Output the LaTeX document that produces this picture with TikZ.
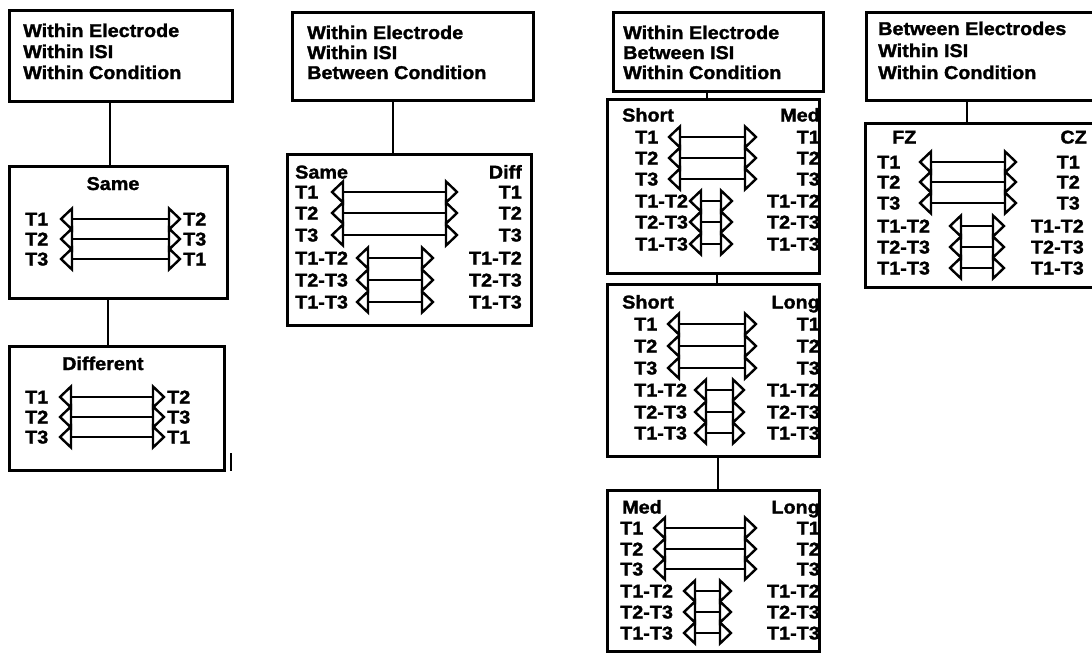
\documentclass[tikz,border=0pt]{standalone}
\usepackage{fontspec}
\setmainfont{Liberation Sans}[FakeStretch=1.07, BoldFeatures={FakeBold=1.5}]
\tikzset{
  box/.style={draw, line width=3pt, inner sep=0pt, outer sep=0pt, anchor=north west},
  lab/.style={font=\fontsize{18.5}{20}\selectfont\bfseries, inner sep=0pt, anchor=base west},
  labr/.style={lab, anchor=base east},
  labc/.style={lab, anchor=base},
  link/.style={line width=2.6pt},
  shaft/.style={line width=2.8pt},
  head/.style={line width=2.4pt, line join=miter, miter limit=10},
}
% double-headed connector with open triangular heads between two named coordinates
\newcommand\dblarr[2]{%
  \draw[shaft] ([xshift=10pt]#1) -- ([xshift=-10pt]#2);
  \draw[head] (#1) -- ([shift={(11pt,10.5pt)}]#1) -- ([shift={(11pt,-10.5pt)}]#1) -- cycle;
  \draw[head] (#2) -- ([shift={(-11pt,10.5pt)}]#2) -- ([shift={(-11pt,-10.5pt)}]#2) -- cycle;
}
\begin{document}
\begin{tikzpicture}[x=1pt,y=-1pt]
\useasboundingbox (0,0) rectangle (1092,654);
\fill[white] (0,0) rectangle (1092,654);
\clip (0,0) rectangle (1092,654);

% ---------------- Column 1 ----------------
\node[box, minimum width=223pt, minimum height=91pt] (a0) at (9,10) {};
\node[lab] (a0t1) at (23,37) {Within Electrode};
\node[lab] (a0t2) at (23,58) {Within ISI};
\node[lab] (a0t3) at (23,79) {Within Condition};

\node[box, minimum width=218pt, minimum height=132pt] (a1) at (9,166) {};
\node[labc] (a1h) at (113,190) {Same};
\foreach \l/\r/\y [count=\i] in {T1/T2/219, T2/T3/239, T3/T1/259}{
  \node[lab] (a1l\i) at (25,\y+6.5) {\l};
  \node[lab] (a1r\i) at (183,\y+6.5) {\r};
  \coordinate (a1p\i) at (61,\y);
  \coordinate (a1q\i) at (180,\y);
  \dblarr{a1p\i}{a1q\i}
}

\node[box, minimum width=215pt, minimum height=124pt] (a2) at (9,346) {};
\node[lab] (a2h) at (62,370) {Different};
\foreach \l/\r/\y [count=\i] in {T1/T2/397, T2/T3/417, T3/T1/437}{
  \node[lab] (a2l\i) at (25,\y+6.5) {\l};
  \node[lab] (a2r\i) at (167,\y+6.5) {\r};
  \coordinate (a2p\i) at (60,\y);
  \coordinate (a2q\i) at (164,\y);
  \dblarr{a2p\i}{a2q\i}
}
\coordinate (ka) at (110,0);
\coordinate (kb) at (108,0);
\draw[link] (a0.south -| ka) -- (a1.north -| ka);
\draw[link] (a1.south -| kb) -- (a2.north -| kb);
\coordinate (m1) at (231,453);
\coordinate (m2) at (231,471);
\draw[link] (m1) -- (m2);

% ---------------- Column 2 ----------------
\node[box, minimum width=241pt, minimum height=88pt] (b0) at (292,12) {};
\node[lab] (b0t1) at (307,39) {Within Electrode};
\node[lab] (b0t2) at (307,59) {Within ISI};
\node[lab] (b0t3) at (307,79) {Between Condition};

\node[box, minimum width=244pt, minimum height=171pt] (b1) at (287,154) {};
\node[lab] (b1h) at (295,178.5) {Same};
\node[labr] (b1k) at (522,178.5) {Diff};
\foreach \l/\y [count=\i] in {T1/192, T2/213, T3/235, T1-T2/258, T2-T3/280, T1-T3/302}{
  \node[lab] (b1l\i) at (295,\y+6.5) {\l};
  \node[labr] (b1r\i) at (522,\y+6.5) {\l};
}
\foreach \y [count=\i] in {192,213,235}{
  \coordinate (b1p\i) at (332,\y);
  \coordinate (b1q\i) at (457,\y);
  \dblarr{b1p\i}{b1q\i}
}
\foreach \y [count=\i] in {258,280,302}{
  \coordinate (b1s\i) at (357,\y);
  \coordinate (b1u\i) at (433,\y);
  \dblarr{b1s\i}{b1u\i}
}
\coordinate (kc) at (393,0);
\draw[link] (b0.south -| kc) -- (b1.north -| kc);

% ---------------- Column 3 ----------------
\node[box, minimum width=210pt, minimum height=79pt] (c0) at (613,12) {};
\node[lab] (c0t1) at (623,39) {Within Electrode};
\node[lab] (c0t2) at (623,59) {Between ISI};
\node[lab] (c0t3) at (623,79) {Within Condition};

% box 2 : Short / Med
\node[box, minimum width=212pt, minimum height=174pt] (c1) at (607,99) {};
\node[lab] (c1h) at (622,121.5) {Short};
\node[labr] (c1k) at (820,121.5) {Med};
\foreach \l/\y [count=\i] in {T1/137, T2/158, T3/179, T1-T2/201, T2-T3/222, T1-T3/244}{
  \node[lab] (c1l\i) at (635,\y+6.5) {\l};
  \node[labr] (c1r\i) at (820,\y+6.5) {\l};
}
\foreach \y [count=\i] in {137,158,179}{
  \coordinate (c1p\i) at (669,\y);
  \coordinate (c1q\i) at (756,\y);
  \dblarr{c1p\i}{c1q\i}
}
\foreach \y [count=\i] in {201,222,244}{
  \coordinate (c1s\i) at (690,\y);
  \coordinate (c1u\i) at (732,\y);
  \dblarr{c1s\i}{c1u\i}
}

% box 3 : Short / Long
\node[box, minimum width=212pt, minimum height=172pt] (c2) at (607,284) {};
\node[lab] (c2h) at (622,308.5) {Short};
\node[labr] (c2k) at (820,308.5) {Long};
\foreach \l/\y [count=\i] in {T1/324, T2/346, T3/368, T1-T2/390, T2-T3/412, T1-T3/433}{
  \node[lab] (c2l\i) at (634,\y+6.5) {\l};
  \node[labr] (c2r\i) at (820,\y+6.5) {\l};
}
\foreach \y [count=\i] in {324,346,368}{
  \coordinate (c2p\i) at (668,\y);
  \coordinate (c2q\i) at (756,\y);
  \dblarr{c2p\i}{c2q\i}
}
\foreach \y [count=\i] in {390,412,433}{
  \coordinate (c2s\i) at (695,\y);
  \coordinate (c2u\i) at (744,\y);
  \dblarr{c2s\i}{c2u\i}
}

% box 4 : Med / Long
\node[box, minimum width=212pt, minimum height=161pt] (c3) at (607,490) {};
\node[lab] (c3h) at (622,513.5) {Med};
\node[labr] (c3k) at (820,513.5) {Long};
\foreach \l/\y [count=\i] in {T1/528, T2/549, T3/569, T1-T2/591, T2-T3/612, T1-T3/633}{
  \node[lab] (c3l\i) at (620,\y+6.5) {\l};
  \node[labr] (c3r\i) at (820,\y+6.5) {\l};
}
\foreach \y [count=\i] in {528,549,569}{
  \coordinate (c3p\i) at (654,\y);
  \coordinate (c3q\i) at (756,\y);
  \dblarr{c3p\i}{c3q\i}
}
\foreach \y [count=\i] in {591,612,633}{
  \coordinate (c3s\i) at (684,\y);
  \coordinate (c3u\i) at (731,\y);
  \dblarr{c3s\i}{c3u\i}
}
\coordinate (kd) at (707,0);
\coordinate (ke) at (717,0);
\coordinate (kf) at (718,0);
\draw[link] (c0.south -| kd) -- (c1.north -| kd);
\draw[link] (c1.south -| ke) -- (c2.north -| ke);
\draw[link] (c2.south -| kf) -- (c3.north -| kf);

% ---------------- Column 4 ----------------
\node[box, minimum width=240pt, minimum height=88pt] (d0) at (866,12) {};
\node[lab] (d0t1) at (878,35) {Between Electrodes};
\node[lab] (d0t2) at (878,57) {Within ISI};
\node[lab] (d0t3) at (878,79) {Within Condition};

\node[box, minimum width=240pt, minimum height=164pt] (d1) at (865,123) {};
\node[lab] (d1h) at (892,143.5) {FZ};
\node[labr] (d1k) at (1087,143.5) {CZ};
\foreach \l/\y [count=\i] in {T1/162, T2/182, T3/203, T1-T2/226, T2-T3/247, T1-T3/268}{
  \node[lab] (d1l\i) at (877,\y+6.5) {\l};
}
\foreach \l/\y [count=\i] in {T1/162, T2/182, T3/203}{
  \node[labr] (d1r\i) at (1080,\y+6.5) {\l};
}
\foreach \l/\y [count=\i] in {T1-T2/226, T2-T3/247, T1-T3/268}{
  \node[labr] (d1v\i) at (1084,\y+6.5) {\l};
}
\foreach \y [count=\i] in {162,182,203}{
  \coordinate (d1p\i) at (920,\y);
  \coordinate (d1q\i) at (1016,\y);
  \dblarr{d1p\i}{d1q\i}
}
\foreach \y [count=\i] in {226,247,268}{
  \coordinate (d1s\i) at (950,\y);
  \coordinate (d1u\i) at (1004,\y);
  \dblarr{d1s\i}{d1u\i}
}
\coordinate (kg) at (967,0);
\draw[link] (d0.south -| kg) -- (d1.north -| kg);
\end{tikzpicture}
\end{document}
